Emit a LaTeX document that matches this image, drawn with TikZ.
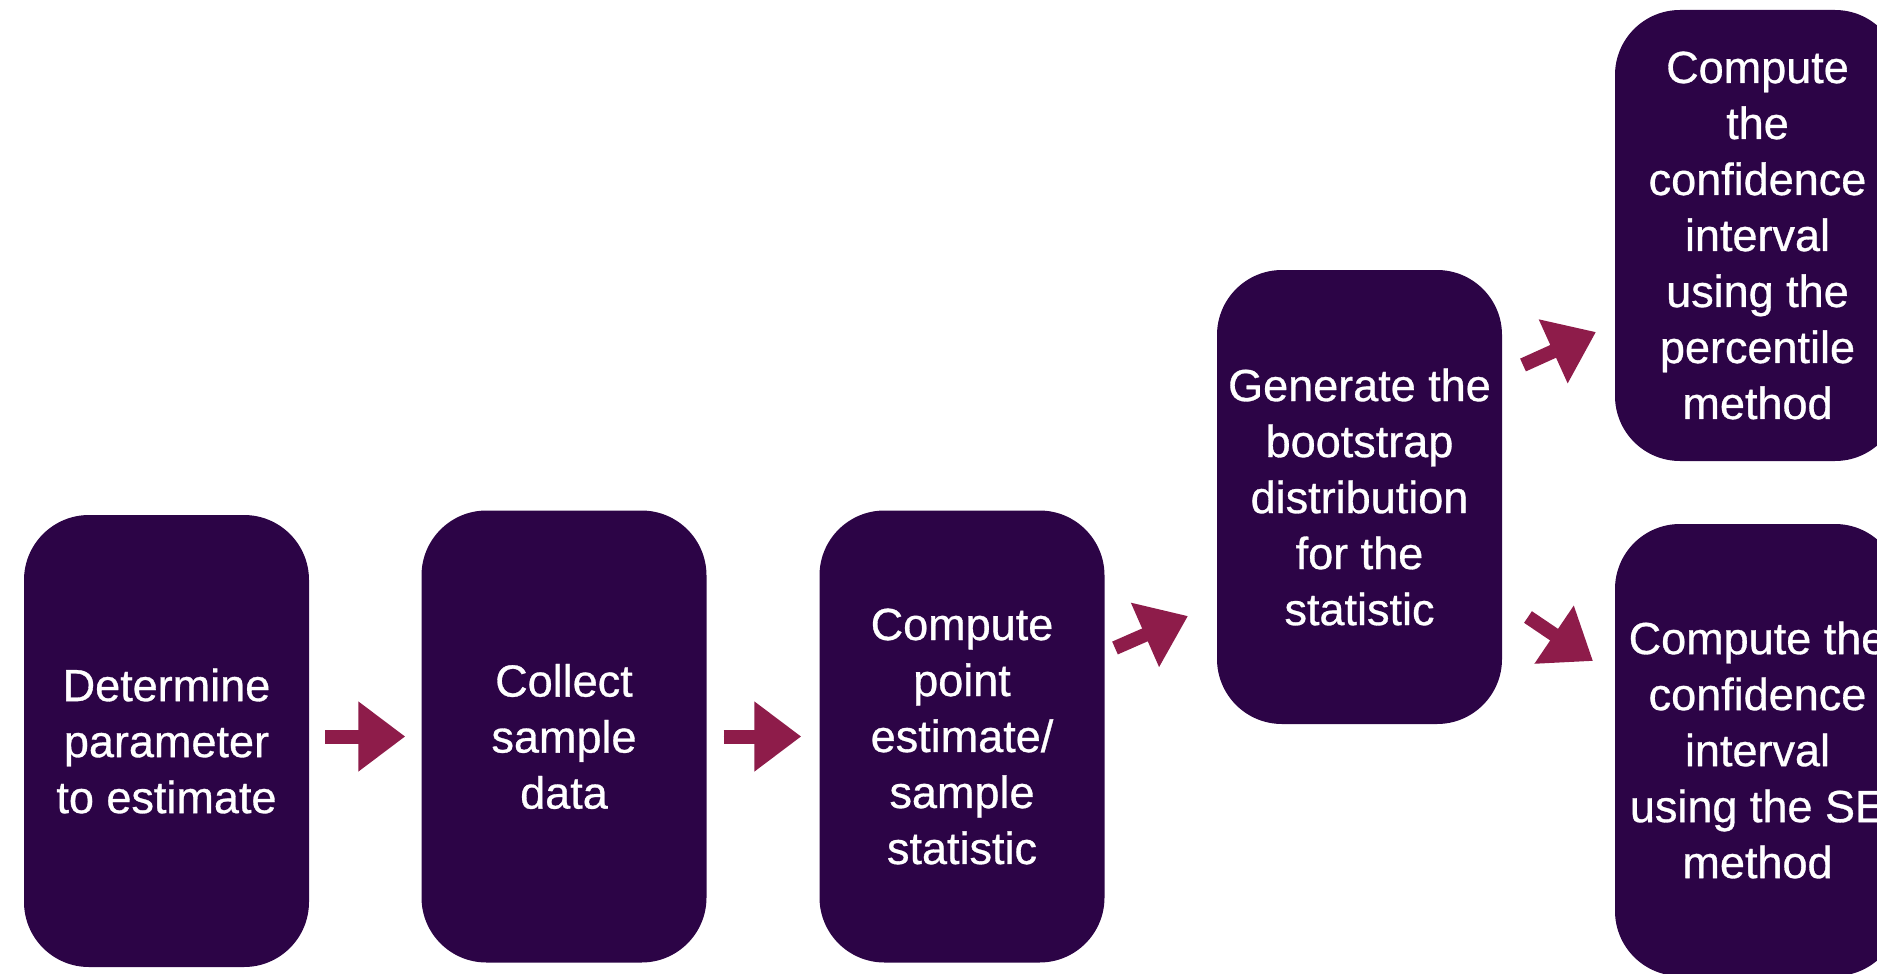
\documentclass[tikz,border=0pt]{standalone}
\usepackage{fontspec}
\setmainfont{Liberation Sans}
\newfontfamily\boxfont[FakeBold=0.7]{Liberation Sans}
\usetikzlibrary{arrows.meta}
\definecolor{boxpurple}{RGB}{44,4,70}
\definecolor{arrowred}{RGB}{142,28,74}
\begin{document}
\begin{tikzpicture}[x=1pt,y=-1pt,
  stepbox/.style={draw=none, fill=boxpurple, rounded corners=65pt,
    minimum width=285pt, minimum height=452pt, text=white, align=center,
    font=\boxfont\fontsize{45}{56}\selectfont, inner sep=0pt},
  bigarrow/.style={draw=arrowred, fill=arrowred, line width=14pt,
    -{Triangle[length=47pt,width=67pt]}}]
\useasboundingbox (0,0) rectangle (1877,974);
\clip (0,0) rectangle (1877,974);

\node[stepbox] (b1) at (166.5,741) {Determine\\parameter\\to estimate};
\node[stepbox] (b2) at (564,736.5) {Collect\\sample\\data};
\node[stepbox] (b3) at (962,736.5) {Compute\\point\\estimate/\\sample\\statistic};
\node[stepbox, minimum height=454pt] (b4) at (1359.5,497) {Generate the\\bootstrap\\distribution\\for the\\statistic};
\node[stepbox, minimum height=451pt] (b5) at (1757.5,235.5) {Compute\\the\\confidence\\interval\\using the\\percentile\\method};
\node[stepbox] (b6) at (1757.5,750) {Compute the\\confidence\\interval\\using the SE\\method};

\draw[bigarrow, shorten <=16pt, shorten >=16pt] (b1.east |- b2.west) -- (b2.west);
\draw[bigarrow, shorten <=17pt, shorten >=18pt] (b2.east) -- (b3.west);

\coordinate (a3s) at (1115,648);
\coordinate (a3e) at (1188,616);
\coordinate (a4s) at (1523,365);
\coordinate (a4e) at (1596,332);
\coordinate (a5s) at (1528,617);
\coordinate (a5e) at (1593,661);
\draw[bigarrow] (a3s) -- (a3e);
\draw[bigarrow] (a4s) -- (a4e);
\draw[bigarrow] (a5s) -- (a5e);
\end{tikzpicture}
\end{document}
